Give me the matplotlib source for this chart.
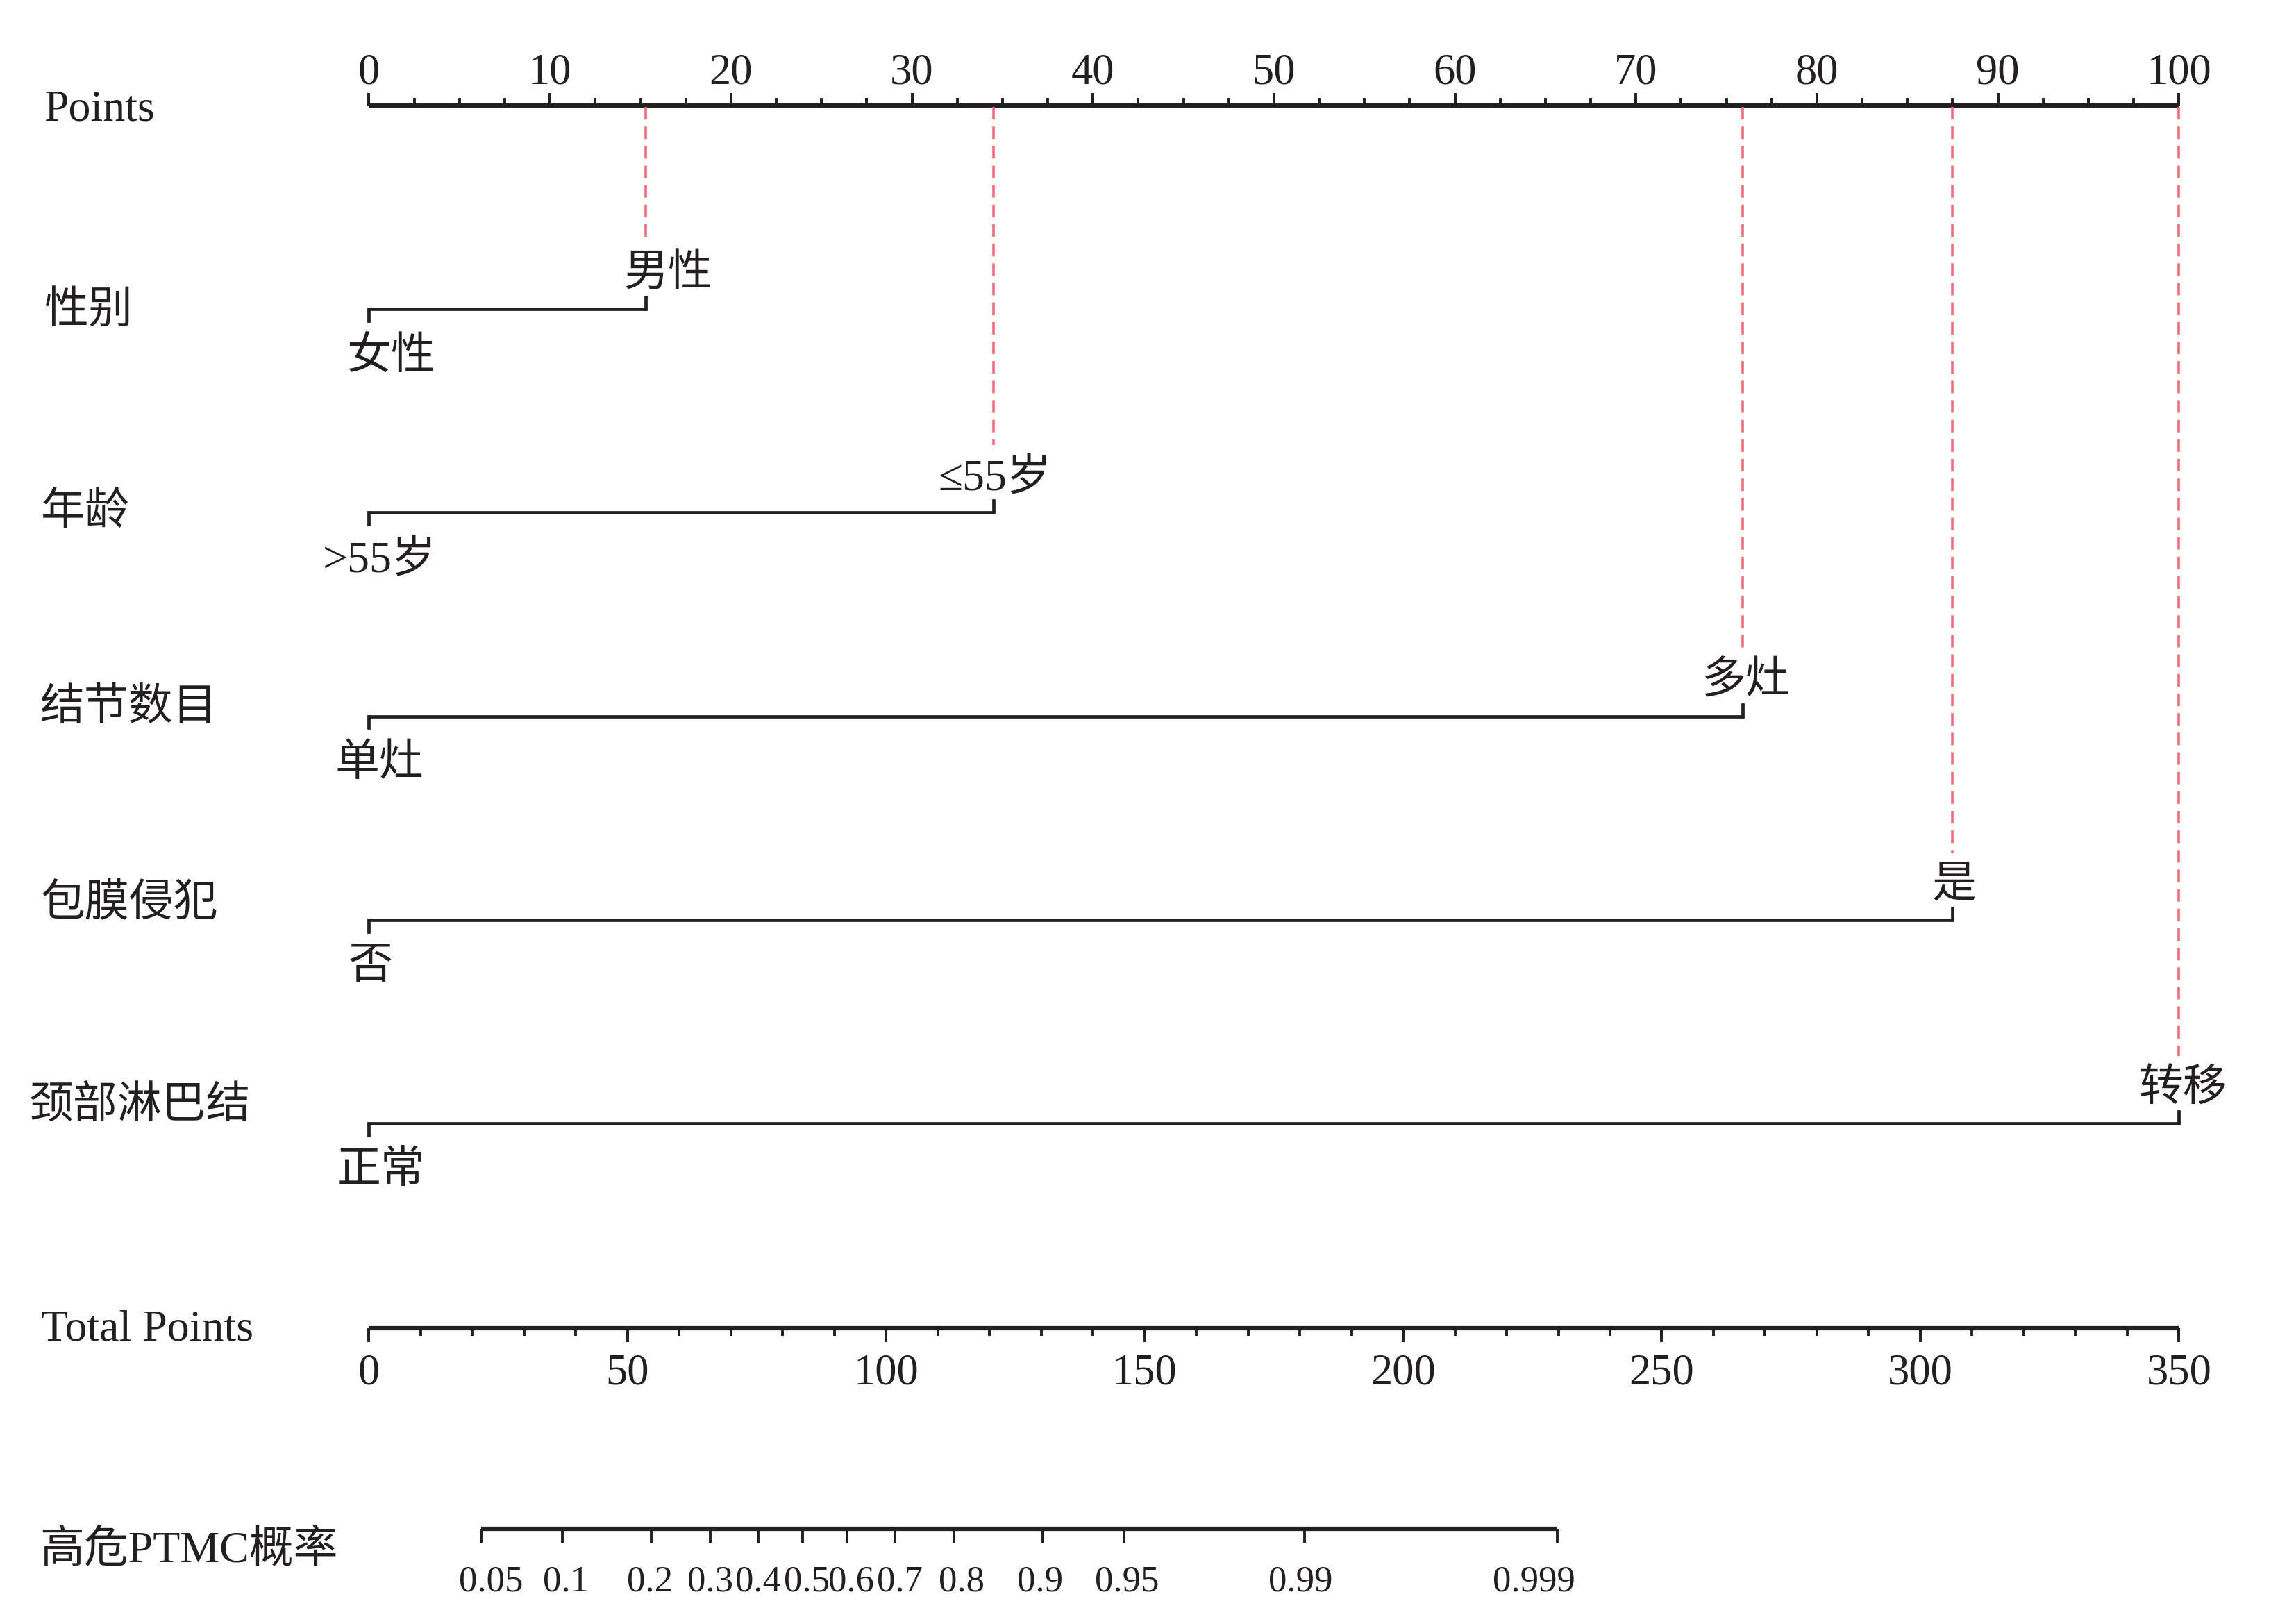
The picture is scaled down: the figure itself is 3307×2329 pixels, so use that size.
import numpy as np
import matplotlib
matplotlib.use("Agg")
import matplotlib.pyplot as plt
from matplotlib.transforms import blended_transform_factory

# ---------------- data ----------------
points_major = np.arange(0, 101, 10)
points_minor = np.arange(0, 100.01, 2.5)

variables = ["性别", "年龄", "结节数目", "包膜侵犯", "颈部淋巴结"]
low_levels = ["女性", ">55岁", "单灶", "否", "正常"]
high_levels = ["男性", "≤55岁", "多灶", "是", "转移"]
low_points = [0.0, 0.0, 0.0, 0.0, 0.0]
high_points = [15.3, 34.5, 75.9, 87.5, 100.0]

total_major = np.arange(0, 351, 50)
total_minor = np.arange(0, 351, 10)
total_max = 350

prob_ticks = [0.05, 0.1, 0.2, 0.3, 0.4, 0.5, 0.6, 0.7, 0.8, 0.9, 0.95, 0.99, 0.999]
prob_labels = ["0.05", "0.1", "0.2", "0.3", "0.4", "0.5", "0.6", "0.7", "0.8",
               "0.9", "0.95", "0.99", "0.999"]
lp_intercept = -3.969   # linear predictor at 0 total points
lp_slope = 0.04733      # per total point

# ---------------- style / layout ----------------
INK = "#231f20"
RED = "#ee6e7c"
FAM = ["Liberation Serif", "Noto Sans CJK SC"]
plt.rcParams["font.family"] = FAM

W, H = 1568.0, 1104.0          # layout grid (reference preview pixels)
X0, PX = 252.0, 12.36          # x of 0 points, pixels per point

fig = plt.figure(figsize=(33.07, 23.29), dpi=100)
ax = fig.add_axes([0, 0, 1, 1])
ax.set_xlim(-X0 / PX, (W - X0) / PX)
ax.set_ylim(H, 0)
ax.axis("off")
lab = blended_transform_factory(ax.transAxes, ax.transData)

def tp_to_x(tp):
    return np.asarray(tp, dtype=float) * 100.0 / total_max

def prob_to_x(p):
    p = np.asarray(p, dtype=float)
    return tp_to_x((np.log(p / (1 - p)) - lp_intercept) / lp_slope)

AX_LW = 4.5
LN_LW = 3.4
TK_LW = 2.8
FS_LAB = 46
FS_TICK = 45

# ---------------- Points axis ----------------
y_pts = 72
ax.plot([0, 100], [y_pts, y_pts], color=INK, lw=AX_LW, solid_capstyle="butt")
ax.vlines(points_minor, y_pts, y_pts - 5, color=INK, lw=TK_LW)
ax.vlines(points_major, y_pts, y_pts - 8.5, color=INK, lw=TK_LW)
for v in points_major:
    ax.text(v, 50, f"{v:d}", ha="center", va="center", fontsize=FS_TICK, color=INK)
ax.text(30 / W, 75, "Points", transform=lab, ha="left", va="center",
        fontsize=FS_LAB, color=INK)

# ---------------- variable rows ----------------
row_y = [211, 350, 489, 628, 767]
row_label_x = [30, 28, 27, 28, 20]
row_label_y = [213, 351, 484, 618, 756]
high_dx = [15, 1, 2, 1, 3]      # label nudges (preview px)
low_dx = [15, 7, 7, 1, 8]
for i, name in enumerate(variables):
    y = row_y[i]
    lo, hi = low_points[i], high_points[i]
    # red dashed reference line from Points axis to the high level
    ax.plot([hi, hi], [y_pts + 1, y - 46], color=RED, lw=2.6,
            linestyle=(0, (5.0, 2.8)))
    ax.plot([lo, hi], [y, y], color=INK, lw=LN_LW, solid_capstyle="butt")
    ax.plot([lo, lo], [y, y + 8], color=INK, lw=LN_LW)
    ax.plot([hi, hi], [y, y - 8], color=INK, lw=LN_LW)
    ax.text(hi + high_dx[i] / PX, y - 23, high_levels[i], ha="center",
            va="center", fontsize=FS_LAB, color=INK)
    ax.text(lo + low_dx[i] / PX, y + 33, low_levels[i], ha="center",
            va="center", fontsize=FS_LAB, color=INK)
    ax.text(row_label_x[i] / W, row_label_y[i], name, transform=lab,
            ha="left", va="center", fontsize=FS_LAB, color=INK)

# ---------------- Total Points axis ----------------
y_tot = 907
ax.plot(tp_to_x([0, total_max]), [y_tot, y_tot], color=INK, lw=AX_LW,
        solid_capstyle="butt")
ax.vlines(tp_to_x(total_minor), y_tot, y_tot + 5, color=INK, lw=TK_LW)
ax.vlines(tp_to_x(total_major), y_tot, y_tot + 9.5, color=INK, lw=TK_LW)
for v in total_major:
    ax.text(tp_to_x(v), 938, f"{v:d}", ha="center", va="center",
            fontsize=FS_TICK, color=INK)
ax.text(28 / W, 908, "Total Points", transform=lab, ha="left", va="center",
        fontsize=FS_LAB, color=INK)

# ---------------- probability axis ----------------
y_prob = 1044
prob_dx = [7, 2, -1, 0, 0, 3, 3, 3, 5, -2, 2, -3, -16]   # label nudges (preview px)
px = prob_to_x(prob_ticks)
ax.plot([px[0], px[-1]], [y_prob, y_prob], color=INK, lw=AX_LW,
        solid_capstyle="butt")
ax.vlines(px, y_prob, y_prob + 9.5, color=INK, lw=TK_LW)
for x, t, d in zip(px, prob_labels, prob_dx):
    ax.text(x + d / PX, 1080, t, ha="center", va="center", fontsize=38, color=INK)
ax.text(27 / W, 1059, "高危PTMC概率", transform=lab, ha="left", va="center",
        fontsize=FS_LAB, color=INK)

fig.savefig("out.png", dpi=100, facecolor="white")
